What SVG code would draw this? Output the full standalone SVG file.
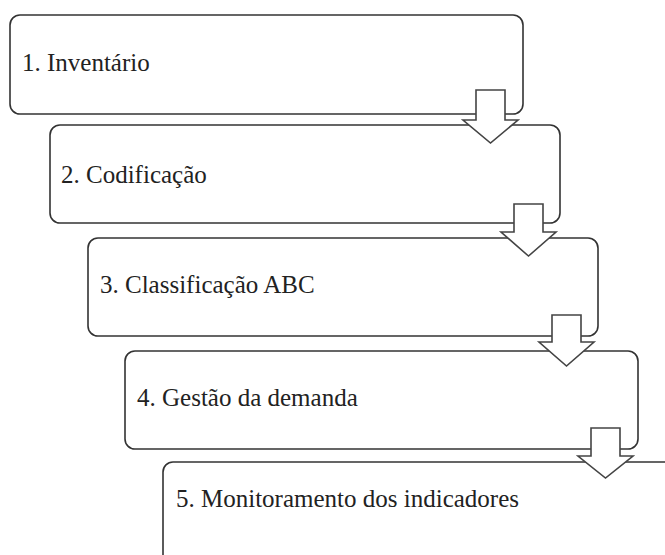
<svg xmlns="http://www.w3.org/2000/svg" width="665" height="555" viewBox="0 0 665 555">
<style>
.box{fill:#fff;stroke:#333;stroke-width:1.6}
.arr{fill:#fff;stroke:#444;stroke-width:1.6;stroke-linejoin:miter}
.lbl{font-family:"Times New Roman","Liberation Serif","DejaVu Serif",serif;font-size:25px;fill:#222}
</style>
<rect width="665" height="555" fill="#fff"/>
<g id="node1"><rect class="box" x="10" y="15" width="513" height="99" rx="10"/><text class="lbl" x="22" y="71">1. Inventário</text></g>
<g id="node2"><rect class="box" x="50" y="125" width="510" height="98" rx="10"/><text class="lbl" x="61" y="183">2. Codificação</text></g>
<g id="node3"><rect class="box" x="88" y="238" width="510" height="98" rx="10"/><text class="lbl" x="100" y="293">3. Classificação ABC</text></g>
<g id="node4"><rect class="box" x="125" y="351" width="513" height="98" rx="10"/><text class="lbl" x="137" y="406">4. Gestão da demanda</text></g>
<g id="node5"><rect class="box" x="163" y="462" width="513" height="110" rx="10"/><text class="lbl" x="176" y="507">5. Monitoramento dos indicadores</text></g>
<g id="connectors">
<path class="arr" d="M476,90 H505 V120 H518 L490.5,143 L463,120 H476 Z"/>
<path class="arr" d="M514,204 H543 V232 H556 L528.5,256 L501,232 H514 Z"/>
<path class="arr" d="M552,315 H581 V342 H594 L566.5,366 L539,342 H552 Z"/>
<path class="arr" d="M591,428 H620 V456 H633 L605.5,478 L578,456 H591 Z"/>
</g>
</svg>
